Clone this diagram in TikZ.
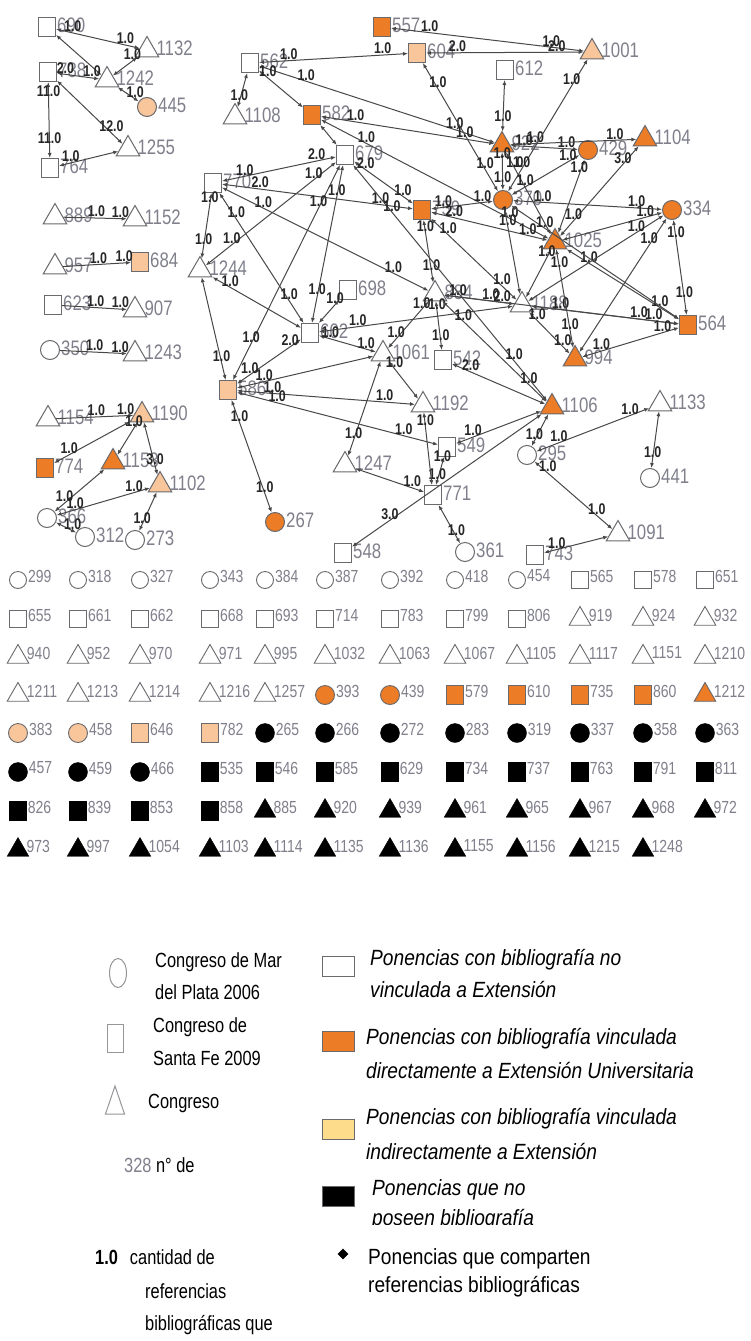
\documentclass[tikz,border=0pt]{standalone}
\usepackage{fontspec}
\setmainfont{Liberation Sans}
\newfontfamily\cond[FakeStretch=0.8]{Liberation Sans}
\newfontfamily\condl[FakeStretch=0.87]{Liberation Sans}
\usetikzlibrary{shapes.geometric,arrows.meta}
\definecolor{org}{RGB}{236,124,38}
\definecolor{lorg}{RGB}{248,198,154}
\definecolor{ylw}{RGB}{253,220,140}
\definecolor{shp}{RGB}{105,105,110}
\definecolor{lab}{RGB}{128,128,140}
\definecolor{edg}{RGB}{72,72,72}
\tikzset{
  sq/.style={rectangle,draw=shp,line width=1pt,minimum width=17pt,minimum height=19pt,inner sep=0pt},
  ci/.style={circle,draw=shp,line width=1pt,minimum size=19pt,inner sep=0pt},
  tr/.style={regular polygon,regular polygon sides=3,draw=shp,line width=1pt,minimum size=27pt,inner sep=0pt},
  fo/.style={fill=org},
  fl/.style={fill=lorg},
  nlab/.style={text=lab,font=\cond\fontsize{21}{21}\selectfont,inner sep=1pt,yshift=2pt},
  elab/.style={text=black!85,font=\cond\bfseries\fontsize{15.5}{15.5}\selectfont,inner sep=0.5pt,anchor=south},
  lnk/.style={draw=edg,line width=1pt,{Latex[length=5pt,width=4pt]}-{Latex[length=5pt,width=4pt]}},
  lnkone/.style={draw=edg,line width=1pt,-{Latex[length=5pt,width=4pt]}},
  gc/.style={circle,draw=shp,line width=0.9pt,minimum size=17pt,inner sep=0pt},
  gs/.style={rectangle,draw=shp,line width=0.9pt,minimum width=17pt,minimum height=17pt,inner sep=0pt},
  gt/.style={regular polygon,regular polygon sides=3,draw=shp,line width=0.9pt,minimum size=25pt,inner sep=0pt},
  oc/.style={gc,fill=org,minimum size=19pt},
  os/.style={gs,fill=org,minimum height=19pt},
  ot/.style={gt,fill=org},
  lc/.style={gc,fill=lorg,minimum size=19pt},
  ls/.style={gs,fill=lorg,minimum height=19pt},
  kc/.style={circle,fill=black,draw=black,minimum size=19pt,inner sep=0pt},
  ks/.style={rectangle,fill=black,draw=black,minimum width=17pt,minimum height=19pt,inner sep=0pt},
  kt/.style={regular polygon,regular polygon sides=3,fill=black,draw=black,minimum size=25pt,inner sep=0pt},
  glab/.style={text=lab,font=\cond\fontsize{17.5}{17.5}\selectfont,inner sep=1pt,yshift=4pt},
  ltxt/.style={anchor=west,inner sep=0pt,font=\cond\fontsize{20.5}{20.5}\selectfont},
  rtxt/.style={anchor=west,inner sep=0pt,font=\condl\itshape\fontsize{22}{22}\selectfont},
  rtxu/.style={anchor=west,inner sep=0pt,font=\condl\fontsize{22}{22}\selectfont},
  legbox/.style={rectangle,draw=shp,line width=1pt,minimum width=32pt,minimum height=20pt,inner sep=0pt}
}
\newcommand\nd[4]{\node[#1,label={[nlab]0:#2}] (n#2) at (#3,#4) {};}
\newcommand\ee[4]{\draw[lnk] (n#1) -- (n#2) node[elab,pos=0.2]{#3} node[elab,pos=0.83]{#4};}
\newcommand\eo[4]{\draw[lnkone] (n#1) -- (n#2) node[elab,pos=0.52]{#3} node[elab,pos=0.9]{#4};}
\newcommand\gn[4]{\node[#3,label={[glab]0:#4}] (g#4) at (#1,#2) {};}
\newcommand\grow[2]{\foreach \x/\s/\t in {#2}{\edef\tmp{\noexpand\gn{\x}{#1}{\s}{\t}}\tmp}}
\begin{document}
\begin{tikzpicture}[x=1pt,y=-1pt]
\useasboundingbox (0,0) rectangle (751,1341);
\fill[white] (0,0) rectangle (751,1341);

% ---------- left clusters ----------
\nd{sq}{690}{47}{27}
\nd{tr}{1132}{147}{50}
\nd{sq}{738}{48}{72}
\nd{tr}{1242}{107}{80}
\nd{ci,fl}{445}{147}{107}
\nd{tr}{1255}{128}{149}
\nd{sq}{764}{50}{168}
\nd{tr}{889}{55}{217}
\nd{tr}{1152}{135}{219}
\nd{tr}{957}{55}{267}
\nd{sq,fl}{684}{140}{262}
\nd{sq}{623}{53}{305}
\nd{tr}{907}{135}{310}
\nd{ci}{350}{50}{350}
\nd{tr}{1243}{135}{354}
\nd{tr}{1154}{48}{419}
\nd{tr,fl}{1190}{142}{415}
\nd{sq,fo}{774}{45}{468}
\nd{tr,fo}{1153}{113}{462}
\nd{tr,fl}{1102}{160}{485}
\nd{ci}{366}{47}{518}
\nd{ci}{312}{85}{537}
\nd{ci}{273}{135}{540}

% ---------- main network ----------
\nd{sq,fo}{557}{382}{27}
\nd{sq,fl}{604}{417}{53}
\nd{tr,fl}{1001}{592}{52}
\nd{sq}{562}{250}{63}
\nd{sq}{612}{505}{70}
\nd{tr}{1108}{235}{117}
\nd{sq,fo}{582}{312}{115}
\nd{tr,fo}{922}{502}{145}
\nd{ci,fo}{429}{588}{150}
\nd{tr,fo}{1104}{645}{139}
\nd{sq}{679}{345}{155}
\nd{sq}{770}{213}{183}
\nd{sq,fo}{759}{422}{210}
\nd{ci,fo}{370}{503}{200}
\nd{ci,fo}{334}{672}{210}
\nd{tr,fo}{1025}{555}{242}
\nd{tr}{1244}{200}{270}
\nd{sq}{698}{348}{290}
\nd{tr}{884}{435}{294}
\nd{tr}{1188}{522}{305}
\nd{sq}{602}{310}{333}
\nd{sq,fo}{564}{688}{325}
\nd{tr}{1061}{383}{354}
\nd{sq}{542}{443}{360}
\nd{tr,fo}{994}{575}{359}
\nd{sq,fl}{586}{228}{390}
\nd{tr}{1192}{423}{405}
\nd{tr,fo}{1106}{552}{407}
\nd{tr}{1133}{660}{404}
\nd{sq}{549}{447}{447}
\nd{ci}{295}{527}{455}
\nd{tr}{1247}{345}{465}
\nd{ci}{441}{650}{478}
\nd{sq}{771}{433}{495}
\nd{ci,fo}{267}{275}{522}
\nd{tr}{1091}{618}{534}
\nd{sq}{548}{343}{553}
\nd{ci}{361}{465}{552}
\nd{sq}{743}{535}{555}

% ---------- edges: left ----------
\ee{690}{1132}{1.0}{1.0}
\ee{690}{1242}{}{}
\ee{1132}{1242}{1.0}{}
\ee{738}{1242}{2.0}{1.0}
\ee{1242}{445}{}{1.0}
\ee{738}{1255}{}{12.0}
\ee{738}{764}{11.0}{11.0}
\ee{764}{1255}{1.0}{}
\eo{889}{1152}{1.0}{1.0}
\eo{957}{684}{1.0}{1.0}
\eo{623}{907}{1.0}{1.0}
\eo{350}{1243}{1.0}{1.0}
\eo{1154}{1190}{1.0}{1.0}
\ee{774}{1190}{1.0}{}
\ee{1153}{1190}{}{1.0}
\ee{1190}{1102}{}{3.0}
\ee{366}{1153}{1.0}{}
\ee{366}{1102}{1.0}{1.0}
\ee{366}{312}{}{1.0}
\ee{1102}{273}{}{1.0}

% ---------- edges: main ----------
\ee{557}{1001}{1.0}{1.0}
\ee{604}{1001}{2.0}{2.0}
\ee{562}{604}{1.0}{1.0}
\ee{562}{922}{1.0}{1.0}
\ee{562}{582}{1.0}{}
\ee{562}{1108}{}{1.0}
\ee{604}{370}{1.0}{1.0}
\ee{582}{922}{1.0}{1.0}
\ee{582}{1025}{1.0}{1.0}
\ee{679}{582}{}{}
\ee{612}{922}{}{1.0}
\ee{922}{370}{1.0}{1.0}
\ee{922}{429}{1.0}{1.0}
\ee{922}{1104}{1.0}{1.0}
\ee{922}{1025}{1.0}{}
\ee{1001}{370}{1.0}{1.0}
\ee{370}{429}{1.0}{1.0}
\ee{1104}{1025}{3.0}{1.0}
\ee{429}{1025}{1.0}{}
\ee{679}{759}{2.0}{1.0}
\ee{770}{759}{2.0}{1.0}
\ee{770}{679}{1.0}{2.0}
\ee{759}{370}{1.0}{1.0}
\ee{759}{1025}{2.0}{1.0}
\ee{759}{884}{1.0}{1.0}
\ee{759}{1188}{1.0}{1.0}
\ee{770}{884}{1.0}{1.0}
\ee{679}{1106}{1.0}{1.0}
\ee{1244}{770}{1.0}{1.0}
\ee{1244}{679}{1.0}{1.0}
\ee{1244}{586}{}{1.0}
\ee{1244}{602}{1.0}{}
\ee{770}{602}{1.0}{1.0}
\ee{679}{602}{1.0}{1.0}
\ee{679}{586}{1.0}{1.0}
\ee{698}{602}{1.0}{}
\ee{602}{1061}{1.0}{1.0}
\ee{602}{1188}{1.0}{}
\ee{586}{602}{1.0}{2.0}
\ee{586}{1192}{1.0}{1.0}
\ee{586}{549}{1.0}{1.0}
\ee{586}{267}{1.0}{1.0}
\ee{586}{1061}{1.0}{}
\ee{1061}{884}{1.0}{1.0}
\ee{1061}{1247}{}{1.0}
\ee{1061}{1192}{1.0}{}
\ee{884}{542}{1.0}{1.0}
\ee{884}{1188}{1.0}{2.0}
\ee{884}{564}{1.0}{1.0}
\ee{884}{1106}{1.0}{1.0}
\ee{1188}{994}{1.0}{1.0}
\ee{1188}{564}{1.0}{1.0}
\ee{1188}{1025}{}{1.0}
\ee{1025}{994}{1.0}{1.0}
\ee{1025}{564}{1.0}{1.0}
\ee{334}{564}{1.0}{1.0}
\ee{370}{334}{1.0}{1.0}
\ee{1025}{334}{}{1.0}
\ee{334}{1188}{1.0}{}
\ee{334}{994}{1.0}{}
\ee{994}{564}{1.0}{1.0}
\ee{370}{564}{1.0}{}
\ee{370}{1188}{1.0}{}
\ee{1106}{295}{}{1.0}
\ee{295}{1133}{1.0}{1.0}
\ee{1133}{441}{}{1.0}
\ee{1091}{295}{1.0}{1.0}
\ee{743}{1091}{1.0}{}
\ee{549}{1106}{1.0}{}
\ee{549}{771}{1.0}{1.0}
\ee{1247}{771}{}{1.0}
\ee{548}{1106}{3.0}{}
\ee{771}{361}{}{1.0}
\ee{1192}{771}{1.0}{}
\ee{542}{1106}{2.0}{}

% ---------- grid of isolated papers ----------
\grow{580}{18/gc/299,78/gc/318,140/gc/327,210/gc/343,265/gc/384,325/gc/387,390/gc/392,455/gc/418,517/gc/454,580/gs/565,643/gs/578,705/gs/651}
\grow{619}{18/gs/655,78/gs/661,140/gs/662,210/gs/668,265/gs/693,325/gs/714,390/gs/783,455/gs/799,517/gs/806,580/gt/919,643/gt/924,705/gt/932}
\grow{657}{18/gt/940,78/gt/952,140/gt/970,210/gt/971,265/gt/995,325/gt/1032,390/gt/1063,455/gt/1067,517/gt/1105,580/gt/1117,643/gt/1151,705/gt/1210}
\grow{695}{18/gt/1211,78/gt/1213,140/gt/1214,210/gt/1216,265/gt/1257,325/oc/393,390/oc/439,455/os/579,517/os/610,580/os/735,643/os/860,705/ot/1212}
\grow{733}{18/lc/383,78/lc/458,140/ls/646,210/ls/782,265/kc/265,325/kc/266,390/kc/272,455/kc/283,517/kc/319,580/kc/337,643/kc/358,705/kc/363}
\grow{772}{18/kc/457,78/kc/459,140/kc/466,210/ks/535,265/ks/546,325/ks/585,390/ks/629,455/ks/734,517/ks/737,580/ks/763,643/ks/791,705/ks/811}
\grow{811}{18/ks/826,78/ks/839,140/ks/853,210/ks/858,265/kt/885,325/kt/920,390/kt/939,455/kt/961,517/kt/965,580/kt/967,643/kt/968,705/kt/972}
\grow{850}{18/kt/973,78/kt/997,140/kt/1054,210/kt/1103,265/kt/1114,325/kt/1135,390/kt/1136,455/kt/1155,517/kt/1156,580/kt/1215,643/kt/1248}

% ---------- legend ----------
\node[ellipse,draw=shp!70,line width=1pt,minimum width=17pt,minimum height=29pt,inner sep=0pt] (legc) at (118,973) {};
\node[rectangle,draw=shp!70,line width=1pt,minimum width=16pt,minimum height=28pt,inner sep=0pt] (legs) at (115,1038) {};
\draw[shp!70,line width=1pt] (105.5,1114) -- (115,1086) -- (124.5,1114) -- cycle;
\node[ltxt] (t1) at (155,962) {Congreso de Mar};
\node[ltxt] (t2) at (155,992) {del Plata 2006};
\node[ltxt] (t3) at (153,1027) {Congreso de};
\node[ltxt] (t4) at (153,1058) {Santa Fe 2009};
\node[ltxt] (t5) at (148,1103) {Congreso};
\node[ltxt] (t6) at (124,1165) {\textcolor{lab}{328} n° de};
\node[ltxt] (t7) at (95,1257) {\textbf{1.0}\hspace{12pt}cantidad de};
\node[ltxt] (t8) at (145,1291) {referencias};
\node[ltxt] (t9) at (145,1325) {bibliográficas que};

\node[legbox,fill=white] (b1) at (338,966) {};
\node[legbox,fill=org] (b2) at (338,1041) {};
\node[legbox,fill=ylw] (b3) at (338,1129) {};
\node[legbox,fill=black] (b4) at (338,1196) {};
\node[diamond,fill=black,minimum size=11pt,inner sep=0pt] (b5) at (343,1254) {};
\node[rtxt] (r1) at (370,960) {Ponencias con bibliografía no};
\node[rtxt] (r2) at (370,990) {vinculada a Extensión};
\node[rtxt] (r3) at (366,1039) {Ponencias con bibliografía vinculada};
\node[rtxt] (r4) at (366,1070) {directamente a Extensión Universitaria};
\node[rtxt] (r5) at (366,1119) {Ponencias con bibliografía vinculada};
\node[rtxt] (r6) at (366,1151) {indirectamente a Extensión};
\node[rtxt] (r7) at (372,1190) {Ponencias que no};
\begin{scope}
\clip (360,1205) rectangle (600,1224);
\node[rtxt] (r8) at (372,1220) {poseen bibliografía};
\end{scope}
\node[rtxu] (r9) at (368,1259) {Ponencias que comparten};
\node[rtxu] (r10) at (368,1287) {referencias bibliográficas};
\end{tikzpicture}
\end{document}
